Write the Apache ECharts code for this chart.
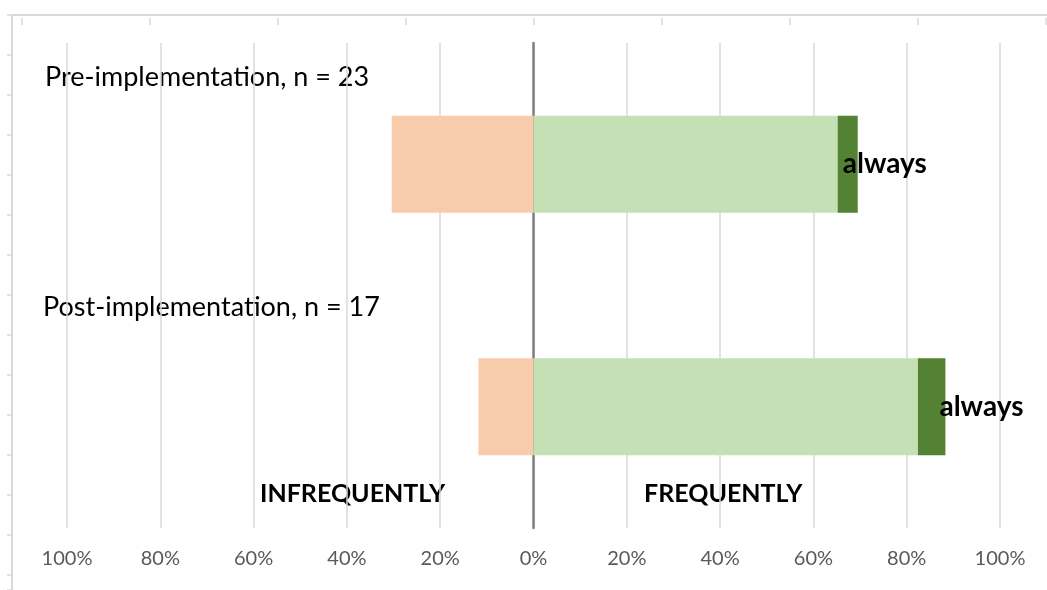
<!DOCTYPE html>
<html><head><meta charset="utf-8">
<script src="https://cdn.jsdelivr.net/npm/echarts@6/dist/echarts.min.js"></script>
<style>html,body{margin:0;padding:0;background:#fff}#c{width:1047px;height:590px}</style>
</head><body><div id="c"></div>
<script>
const categories = ['Pre-implementation, n = 23', 'Post-implementation, n = 17'];
const infrequently = [-30.4, -11.8];
const frequently = [65.2, 82.4];
const always = [4.3, 5.9];
const xTicks = [-100, -80, -60, -40, -20, 0, 20, 40, 60, 80, 100];
const alwaysLabel = 'always';
const sideLabels = ['INFREQUENTLY', 'FREQUENTLY'];

const FONT = 'Lato, "Open Sans", sans-serif';
const chart = echarts.init(document.getElementById('c'));
chart.setOption({
  animation: false,
  backgroundColor: '#fff',
  grid: [
    {left: 67, right: 47, top: 43, bottom: 62},
    {left: 22, right: 1, top: 15, height: 10},
    {left: 12, right: 0, top: 15, bottom: 0}
  ],
  xAxis: [
    {gridIndex: 0, type: 'value', min: xTicks[0], max: xTicks[xTicks.length-1], interval: 20,
     axisLine: {show: false}, axisTick: {show: false},
     splitLine: {lineStyle: {color: '#d9d9d9', width: 1.5}},
     axisLabel: {margin: 21, color: '#595959', fontSize: 20, fontFamily: FONT,
       formatter: v => Math.abs(v) + '%'}},
    {gridIndex: 1, type: 'value', position: 'top', min: 0, max: 8, interval: 1,
     axisLine: {show: false}, axisLabel: {show: false}, splitLine: {show: false},
     axisTick: {show: true, length: 7, inside: false, lineStyle: {color: '#d9d9d9', width: 1.5}}},
    {gridIndex: 2, type: 'value', position: 'top', min: 0, max: 1,
     axisLine: {show: true, onZero: false, lineStyle: {color: '#d9d9d9', width: 2}},
     axisTick: {show: false}, axisLabel: {show: false}, splitLine: {show: false}}
  ],
  yAxis: [
    {gridIndex: 0, type: 'category', data: categories, inverse: true,
     axisLine: {show: true, lineStyle: {color: '#7f7f7f', width: 2.5}},
     axisTick: {show: false}, axisLabel: {show: false}, splitLine: {show: false}},
    {gridIndex: 1, type: 'value', show: false},
    {gridIndex: 2, type: 'value', min: 0, max: 14.375, interval: 1, inverse: true, position: 'left',
     axisLine: {show: true, onZero: false, lineStyle: {color: '#d9d9d9', width: 2}},
     axisTick: {show: true, length: 5, lineStyle: {color: '#d9d9d9', width: 1.5}},
     axisLabel: {show: false}, splitLine: {show: false}}
  ],
  series: [
    {name: 'infrequently', type: 'bar', stack: 'total', data: infrequently, barWidth: '40%',
     itemStyle: {color: '#f8cbad'}},
    {name: 'frequently', type: 'bar', stack: 'total', data: frequently, barWidth: '40%',
     itemStyle: {color: '#c5e0b4'}},
    {name: 'always', type: 'bar', stack: 'total', barWidth: '40%',
     data: always.map((v, i) => ({value: v, label: {offset: [i === 0 ? -20 : -11, 0]}})),
     itemStyle: {color: '#548235'},
     label: {show: true, position: 'right', distance: 5, formatter: alwaysLabel,
       color: '#000', fontWeight: 'bold', fontSize: 28, fontFamily: FONT}},
    {type: 'line', xAxisIndex: 1, yAxisIndex: 1, data: [], silent: true}
  ],
  graphic: [
    {type: 'text', x: 45, y: 77, style: {text: categories[0], fontSize: 27, fontFamily: FONT, fill: '#000', verticalAlign: 'middle'}},
    {type: 'text', x: 43, y: 307, style: {text: categories[1], fontSize: 27, fontFamily: FONT, fill: '#000', verticalAlign: 'middle'}},
    {type: 'text', x: 260, y: 494, style: {text: sideLabels[0], fontSize: 25, fontWeight: 'bold', fontFamily: FONT, fill: '#000', verticalAlign: 'middle'}},
    {type: 'text', x: 644, y: 494, style: {text: sideLabels[1], fontSize: 25, fontWeight: 'bold', fontFamily: FONT, fill: '#000', verticalAlign: 'middle'}}
  ]
});
</script></body></html>
